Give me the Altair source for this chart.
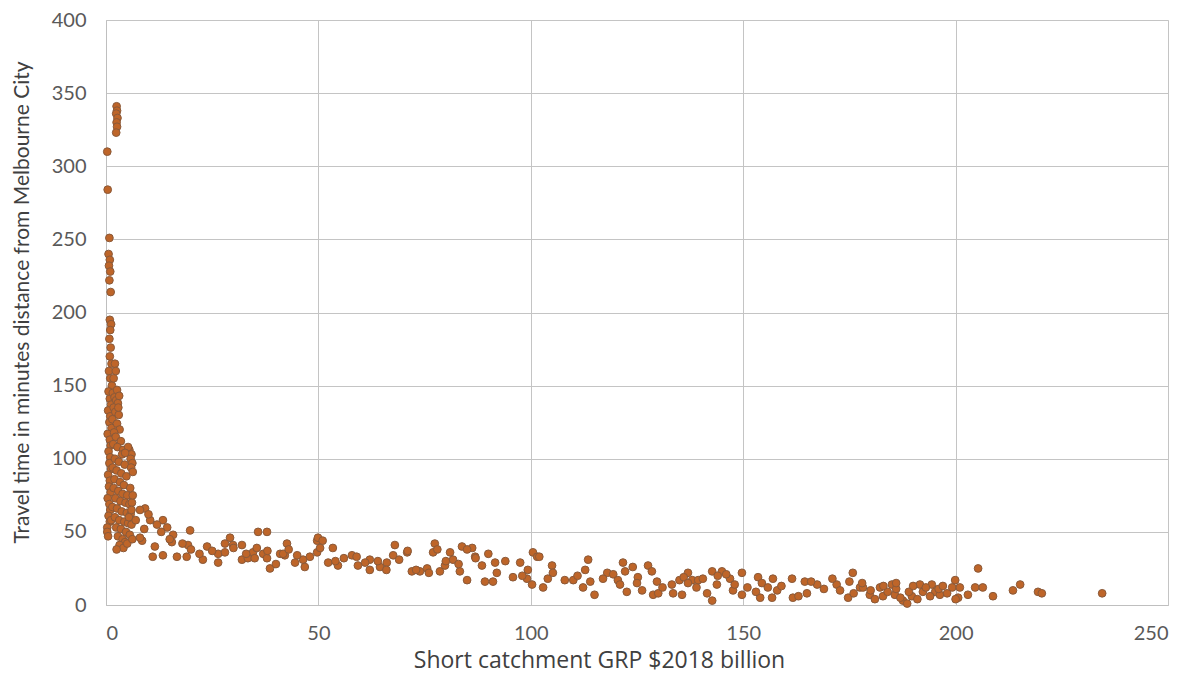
import altair as alt
import pandas as pd

# Steep cluster close to zero GRP
points_steep = [
    (0.3, 310), (0.4, 284), (0.8, 251), (0.6, 240), (0.9, 236), (0.7, 232), (1.0, 228),
    (0.8, 222), (1.1, 214), (0.9, 195), (1.2, 192), (1.0, 188), (0.8, 182), (1.1, 176),
    (0.9, 170), (1.3, 165), (0.7, 160), (1.0, 155), (1.4, 150), (0.6, 146), (0.9, 141),
    (1.2, 137), (0.5, 133), (1.0, 129), (0.8, 125), (1.3, 121), (0.4, 117), (0.9, 113),
    (1.1, 109), (0.6, 105), (1.0, 101), (0.8, 97), (1.2, 93), (0.5, 89), (0.9, 85),
    (0.7, 81), (1.1, 77), (0.4, 73), (0.8, 69), (1.0, 65), (0.6, 61), (0.9, 57), (0.3, 53),
    (0.3, 50), (0.5, 47), (1.2, 58),
]

# Small group of very remote areas
points_remote = [(2.5, 341), (2.6, 338), (2.4, 336), (2.7, 333), (2.5, 330), (2.6, 327), (2.4, 323)]

# Dense cluster at low GRP
points_dense = [
    (1.6, 145), (2.0, 142), (2.4, 140), (2.8, 138), (1.8, 135), (2.2, 132), (3.0, 130),
    (1.5, 127), (2.6, 124), (3.2, 120), (1.9, 118), (2.3, 115), (3.5, 112), (1.7, 110),
    (2.7, 108), (4.0, 106), (3.8, 103), (2.1, 100), (3.0, 98), (4.4, 96), (1.6, 94),
    (2.5, 92), (3.6, 90), (4.8, 88), (2.0, 86), (3.3, 84), (4.2, 82), (1.8, 80), (2.9, 78),
    (3.9, 76), (5.0, 75), (2.2, 73), (3.4, 71), (4.6, 70), (5.5, 69), (1.5, 67), (2.6, 66),
    (3.7, 64), (4.9, 63), (5.8, 62), (2.1, 60), (3.1, 58), (4.3, 57), (5.2, 56), (6.0, 55),
    (2.4, 53), (3.5, 52), (4.7, 50), (5.6, 48), (2.8, 47), (3.9, 45), (4.5, 43), (3.2, 41),
    (4.1, 39), (2.5, 38), (5.0, 42), (6.2, 45), (5.4, 60), (6.1, 70), (6.3, 75), (5.7, 80),
    (6.0, 65), (2.1, 165), (2.3, 160), (1.8, 155), (2.6, 147), (3.1, 143), (2.9, 135),
    (5.5, 106), (6.0, 103), (5.8, 100), (6.2, 97), (5.9, 94), (6.3, 91), (5.2, 108), (4.5, 104),
]

# Band from 7 to 50 billion
points_low = [
    (9.2, 66), (10.4, 58), (8.5, 44), (11.5, 40), (11.0, 33), (13.4, 34), (13.4, 58),
    (14.4, 53), (15.8, 48), (15.5, 43), (16.7, 33), (19.0, 33), (19.8, 51), (19.3, 41),
    (22.8, 31), (23.8, 40), (26.4, 35), (26.4, 29), (28.0, 36), (29.2, 46), (29.9, 41),
    (32.0, 41), (32.0, 31), (34.6, 36), (33.4, 32), (35.8, 50), (37.9, 50), (35.5, 39),
    (37.0, 35), (38.6, 25), (37.9, 32), (41.0, 35), (42.6, 42), (42.1, 34), (44.5, 29),
    (46.4, 31), (46.8, 26), (49.7, 44), (49.7, 36), (41.7, 35),
    (38, 37), (35, 32), (33, 35), (30, 39), (28, 42), (25, 37), (22, 35), (20, 38),
    (18, 42), (15, 45), (13, 50), (12, 55), (10, 62), (9, 52), (8, 46), (7, 58), (8, 65),
    (45, 34), (43, 38), (40, 28), (48, 33),
]

# Band from 50 to 110 billion
points_mid = [
    (49.9, 46), (50.4, 39), (52.3, 29), (53.4, 39), (54.6, 27), (57.9, 34), (59.3, 27),
    (62.1, 31), (62.1, 24), (64.5, 26), (66.1, 29), (68.0, 41), (67.6, 34), (70.9, 36),
    (72.0, 23), (73.9, 23), (75.6, 25), (77.4, 42), (77.0, 36), (78.6, 23), (79.8, 27),
    (81.0, 36), (81.7, 31), (83.8, 40), (83.3, 23), (86.2, 39), (86.9, 33), (85.0, 17),
    (88.5, 27), (89.2, 16), (91.6, 29), (91.1, 16), (92.0, 22), (97.5, 29), (95.8, 19),
    (99.1, 18), (100.5, 36), (99.3, 24), (100.3, 14), (102.9, 12), (105.0, 27), (105.2, 22),
    (108.0, 17), (51, 44), (54, 30), (56, 32), (59, 33), (61, 29), (64, 30), (66, 24),
    (69, 31), (71, 37), (73, 24), (76, 22), (78, 38), (80, 30), (83, 28), (85, 38),
    (87, 32), (90, 35), (94, 30), (98, 20), (101.5, 33), (102, 33), (104, 18),
]

# Band from 110 to 180 billion
points_high = [
    (110.0, 17), (113.5, 31), (112.8, 24), (112.3, 12), (115.0, 7), (118.0, 22), (119.4, 21),
    (120.5, 17), (121.7, 29), (122.2, 23), (122.6, 9), (125.2, 19), (126.2, 10), (127.6, 27),
    (128.5, 23), (128.8, 7), (129.7, 16), (133.2, 14), (133.5, 8), (135.0, 17), (135.6, 7),
    (137.0, 22), (138.0, 17), (139.4, 17), (140.5, 18), (141.5, 8), (142.7, 3), (142.7, 23),
    (143.8, 14), (145.0, 23), (146.9, 18), (147.6, 10), (149.7, 22), (149.7, 7), (153.5, 19),
    (154.4, 15), (154.0, 5), (155.8, 12), (156.8, 5), (158.0, 10), (161.5, 18), (161.7, 5),
    (164.5, 16), (165.0, 8), (167.4, 14), (172.0, 14), (172.8, 10), (175.8, 22), (174.7, 5),
    (177.5, 12), (111, 20), (114, 16), (117, 18), (121, 14), (124, 26), (125, 15),
    (130, 8), (131, 12), (136, 19), (137, 15), (139, 12), (144, 20), (146, 21), (148, 14),
    (151, 12), (153, 9), (157, 18), (159, 13), (163, 6), (166, 16), (169, 11), (171, 18),
    (175, 16),
]

# Far right: largest catchments
points_top = [
    (178.2, 12), (179.8, 7), (182.2, 12), (182.9, 6), (185.0, 14), (185.7, 7), (187.6, 3),
    (188.6, 1), (189.7, 6), (191.6, 14), (192.3, 9), (194.4, 14), (195.2, 9), (196.3, 7),
    (199.2, 12), (199.9, 17), (200.6, 5), (201.0, 12), (202.9, 7), (204.6, 12), (205.3, 25),
    (206.4, 12), (208.8, 6), (213.5, 10), (215.2, 14), (219.4, 9), (220.3, 8), (234.5, 8),
    (176, 8), (178, 15), (180, 10), (181, 4), (184, 9), (186, 11), (187, 5), (189, 9),
    (190, 13), (191, 4), (193, 12), (194, 6), (196, 11), (197, 13), (198, 8), (200, 4),
    (183, 13), (186, 15),
]

all_points = points_steep + points_remote + points_dense + points_low + points_mid + points_high + points_top
df = pd.DataFrame(all_points, columns=["grp", "minutes"])

x_ticks = [0, 50, 100, 150, 200, 250]
y_ticks = [0, 50, 100, 150, 200, 250, 300, 350, 400]

FONT = "Lato"

chart = (
    alt.Chart(df)
    .mark_circle(size=60, color="#BE6529", stroke="#8A5A3A", strokeWidth=1, opacity=1)
    .encode(
        x=alt.X(
            "grp:Q",
            scale=alt.Scale(domain=[0, 250], nice=False, zero=True),
            axis=alt.Axis(
                values=x_ticks,
                title="Short catchment GRP $2018 billion",
                grid=True,
                gridColor="#c4c4c4",
                ticks=False,
                domainColor="#bfbfbf",
                labelPadding=18,
                labelFontSize=20,
                labelFont=FONT,
                labelColor="#595959",
                titleFont="Open Sans",
                titleFontSize=23,
                titleFontWeight="normal",
                titleColor="#404040",
                titleX=493,
                titleY=55,
                titleBaseline="middle",
                titleAlign="center",
            ),
        ),
        y=alt.Y(
            "minutes:Q",
            scale=alt.Scale(domain=[0, 400], nice=False),
            axis=alt.Axis(
                values=y_ticks,
                title="Travel time in minutes distance from Melbourne City",
                grid=True,
                gridColor="#c4c4c4",
                ticks=False,
                domainColor="#bfbfbf",
                labelPadding=20,
                labelFontSize=20,
                labelFont=FONT,
                labelColor="#595959",
                titleFont=FONT,
                titleFontSize=21,
                titleFontWeight="normal",
                titleColor="#404040",
                titleX=-84,
                titleY=282,
                titleBaseline="middle",
                titleAlign="center",
                titleAngle=270,
            ),
        ),
    )
    .properties(
        width=1062,
        height=585,
        autosize=alt.AutoSizeParams(type="none"),
        padding={"left": 98, "top": 12, "right": 14, "bottom": 74},
    )
    .configure_view(stroke="#bfbfbf", strokeWidth=1)
    .configure(background="white")
)

chart.save("out.html", embed_options={"renderer": "svg", "actions": False})
